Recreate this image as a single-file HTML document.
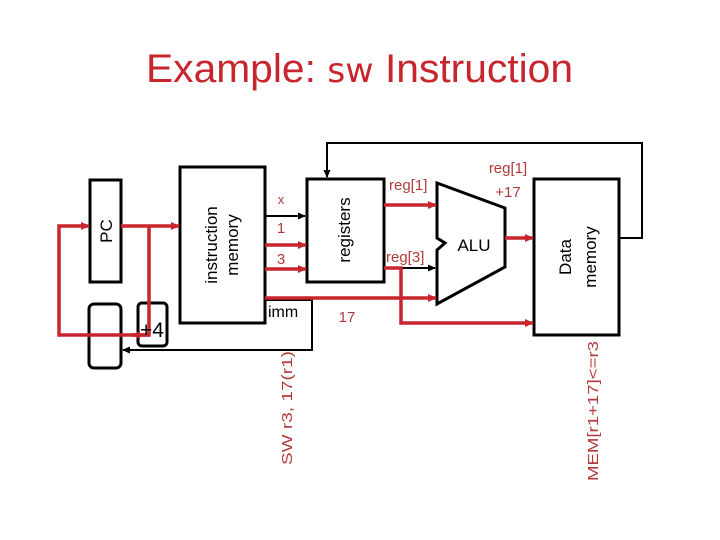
<!DOCTYPE html>
<html><head><style>
body{margin:0;background:#fff;}
svg{display:block}
text{font-family:"Liberation Sans",sans-serif;}
.r{fill:#b23a3a}
</style></head><body>
<svg width="720" height="540" viewBox="0 0 720 540">
<defs>
<marker id="ar" markerWidth="9" markerHeight="8" refX="8" refY="4" orient="auto" markerUnits="userSpaceOnUse"><path d="M0,0L9,4L0,8z" fill="#c8262e"/></marker>
<marker id="ab" markerWidth="8" markerHeight="7" refX="7" refY="3.5" orient="auto" markerUnits="userSpaceOnUse"><path d="M0,0L8,3.5L0,7z" fill="#000"/></marker>
</defs>
<text x="146" y="82" textLength="427" lengthAdjust="spacingAndGlyphs" font-size="40" fill="#c8262e">Example: <tspan font-family="DejaVu Sans" font-size="34">sw</tspan> Instruction</text>
<g fill="none" stroke="#000" stroke-width="3">
<rect x="90" y="180" width="31" height="102"/>
<rect x="180" y="167" width="85" height="156"/>
<rect x="307" y="179" width="77" height="103"/>
<rect x="534" y="179" width="85" height="156"/>
<rect x="89" y="304" width="32" height="64" rx="5"/>
<rect x="138" y="303" width="29" height="43" rx="4"/>
<path d="M437,183 L505,208 L505,267 L437,304 L437,250 L445,243 L437,238 Z"/>
</g>
<g fill="none" stroke="#000" stroke-width="2">
<path d="M265,216 H305" marker-end="url(#ab)"/>
<path d="M619,238 H642 V143 H327 V177" marker-end="url(#ab)"/>
<path d="M265,300 H312 V350 H123" marker-end="url(#ab)"/>
<path d="M384,268 H435" marker-end="url(#ab)"/>
</g>
<g fill="none" stroke="#c8262e" stroke-width="3.5">
<path d="M121,226 H179" marker-end="url(#ar)"/>
<path d="M149,226 V335 H59 V226 H89" marker-end="url(#ar)"/>
<path d="M149,335 H132" marker-end="url(#ar)"/>
<path d="M265,245 H306" marker-end="url(#ar)"/>
<path d="M265,269 H306" marker-end="url(#ar)"/>
<path d="M265,298 H436" marker-end="url(#ar)"/>
<path d="M384,205 H436" marker-end="url(#ar)"/>
<path d="M384,268 H401 V323 H533" marker-end="url(#ar)"/>
<path d="M505,238 H533" marker-end="url(#ar)"/>
</g>
<text x="152" y="337" text-anchor="middle" font-size="21" fill="#000">+4</text>
<text transform="translate(112,231) rotate(-90)" text-anchor="middle" font-size="17">PC</text>
<text transform="translate(217,245) rotate(-90)" text-anchor="middle" font-size="17">instruction</text>
<text transform="translate(238,245) rotate(-90)" text-anchor="middle" font-size="17">memory</text>
<text transform="translate(350,230) rotate(-90)" text-anchor="middle" font-size="17">registers</text>
<text transform="translate(571,257) rotate(-90)" text-anchor="middle" font-size="17">Data</text>
<text transform="translate(596,257) rotate(-90)" text-anchor="middle" font-size="17">memory</text>
<text x="474" y="251" text-anchor="middle" font-size="17">ALU</text>
<text x="268" y="317" font-size="16">imm</text>
<g class="r" font-size="15">
<text x="281" y="204" text-anchor="middle" font-size="13">x</text>
<text x="281" y="233" text-anchor="middle">1</text>
<text x="281" y="264" text-anchor="middle">3</text>
<text x="347" y="322" text-anchor="middle">17</text>
<text x="389" y="190">reg[1]</text>
<text x="386" y="262">reg[3]</text>
<text x="508" y="173" text-anchor="middle">reg[1]</text>
<text x="508" y="197" text-anchor="middle">+17</text>
<text transform="translate(292,408) rotate(-90)" text-anchor="middle" font-size="15" textLength="114" lengthAdjust="spacingAndGlyphs">SW r3, 17(r1)</text>
<text transform="translate(598,411) rotate(-90)" text-anchor="middle" font-size="15" textLength="140" lengthAdjust="spacingAndGlyphs">MEM[r1+17]&lt;=r3</text>
</g>
</svg>
</body></html>
